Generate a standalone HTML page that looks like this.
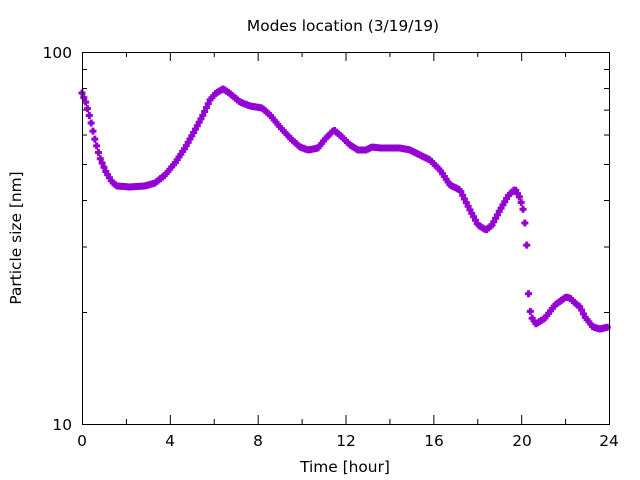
<!DOCTYPE html>
<html><head><meta charset="utf-8"><style>
body{margin:0;background:#fff}
svg{display:block}
text{font-family:"DejaVu Sans","Liberation Sans",sans-serif;font-size:15.4px;fill:#000}
</style></head><body>
<svg id="s" width="640" height="480" xmlns="http://www.w3.org/2000/svg">
<rect width="640" height="480" fill="#fff"/>
<text x="343" y="31" text-anchor="middle">Modes location (3/19/19)</text>
<text x="345" y="472" text-anchor="middle">Time [hour]</text>
<text transform="translate(21,238) rotate(-90)" text-anchor="middle">Particle size [nm]</text>
<g id="ticks" stroke="#000" stroke-width="1"></g>
<g id="pts" fill="#9400d3"></g>
<rect x="82.5" y="52.5" width="527" height="372" fill="none" stroke="#000"/>
<text x="82" y="446" text-anchor="middle">0</text>
<text x="170" y="446" text-anchor="middle">4</text>
<text x="258" y="446" text-anchor="middle">8</text>
<text x="346" y="446" text-anchor="middle">12</text>
<text x="434" y="446" text-anchor="middle">16</text>
<text x="522" y="446" text-anchor="middle">20</text>
<text x="609" y="446" text-anchor="middle">24</text>
<text x="72" y="430" text-anchor="end">10</text>
<text x="72" y="58" text-anchor="end">100</text>
</svg>
<script>
var ns="http://www.w3.org/2000/svg";
var tk=document.getElementById("ticks");
function ln(x1,y1,x2,y2){var l=document.createElementNS(ns,"line");l.setAttribute("x1",x1);l.setAttribute("y1",y1);l.setAttribute("x2",x2);l.setAttribute("y2",y2);tk.appendChild(l);}
for(var i=0;i<=12;i++){var x=82.5+i*527/12;var L=(i%2==0)?9:5;ln(x,424,x,424-L);ln(x,52,x,52+L);}
for(var v=20;v<=90;v+=10){var y=424.5-372*Math.log10(v/10);ln(82,y,87,y);ln(609,y,604,y);}
var P=[[82,93],[86,103],[90,118],[95,140],[100,158],[106,172],[112,182],[117,186],[130,187],[145,186],[155,183],[165,175],[175,163],[185,148],[195,130],[203,115],[210,100],[216,93],[223,89],[228,92],[234,97],[240,102],[250,106],[262,108],[270,115],[280,127],[290,138],[300,147],[308,150],[318,148],[326,138],[334,130],[342,137],[350,145],[358,150],[366,150],[372,147],[380,148],[400,148],[410,150],[420,155],[430,160],[440,170],[450,185],[460,190],[470,210],[478,225],[486,230],[492,225],[500,210],[508,196],[515,189],[520,198],[523,209],[525,224],[527,249],[528,288],[530,310],[532,318],[536,324],[545,318],[555,305],[566,297],[570,298],[575,303],[580,307],[585,317],[593,327],[600,329],[608,327],[610,326]];
function yAt(x){for(var i=0;i<P.length-1;i++){if(x>=P[i][0]&&x<=P[i+1][0]){var t=(x-P[i][0])/(P[i+1][0]-P[i][0]);return P[i][1]+t*(P[i+1][1]-P[i][1]);}}return P[P.length-1][1];}
var g=document.getElementById("pts");var d="";
for(var x=82;x<=609;x+=1.83){var y=yAt(x);
d+="M"+(x-1.5)+","+(y-3.5)+"h3v2h2v3h-2v2h-3v-2h-2v-3h2z";}
var p=document.createElementNS(ns,"path");p.setAttribute("d",d);g.appendChild(p);
</script>
</body></html>
